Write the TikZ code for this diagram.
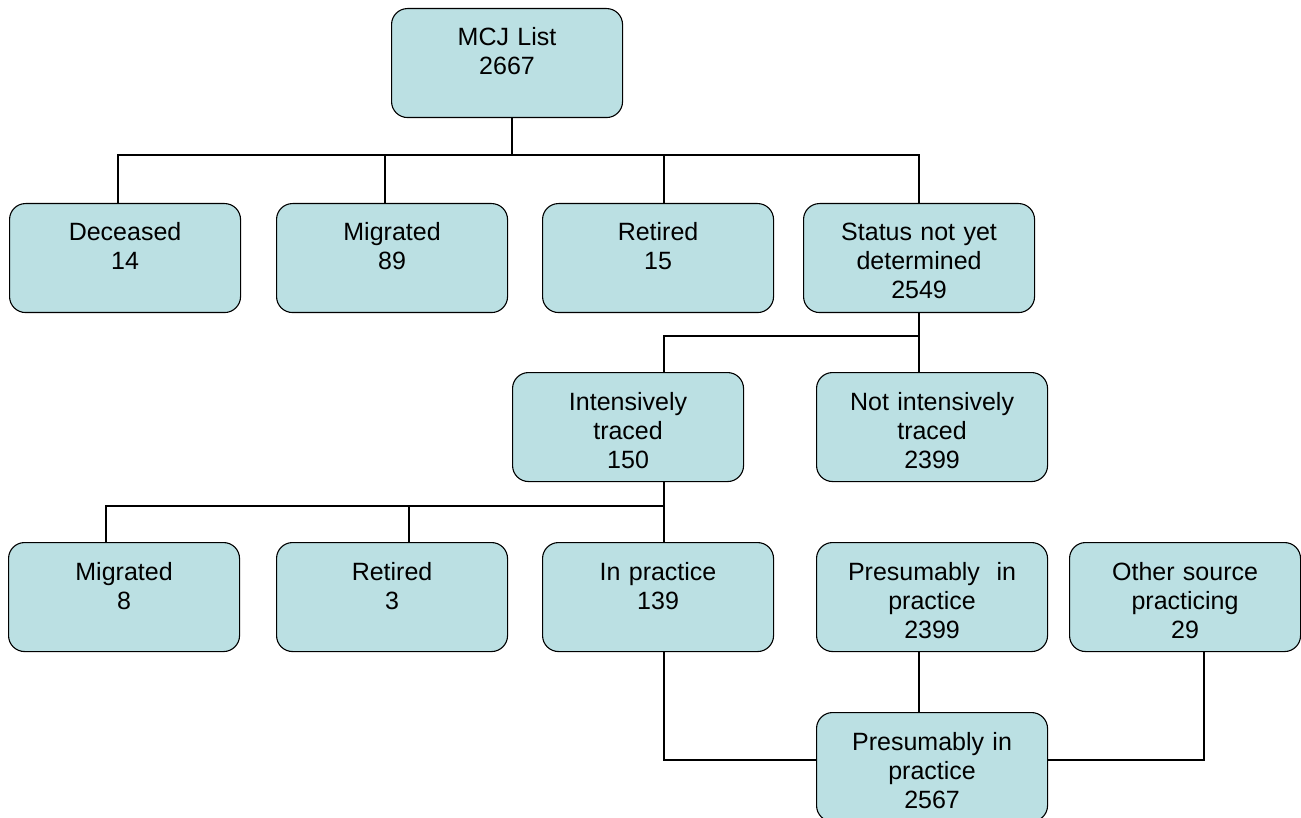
\documentclass[tikz,border=0pt]{standalone}
\usepackage{fontspec}
\setmainfont{Liberation Sans}
\definecolor{boxfill}{RGB}{187,224,227}
\tikzset{
  bx/.style={draw=black, fill=boxfill, line width=1.1pt, rounded corners=16pt,
    minimum width=231pt, minimum height=109pt, inner sep=0pt, anchor=north west},
  txt/.style={anchor=base, align=center, text width=225pt, inner sep=0pt,
    font=\fontsize{25}{29}\selectfont},
  link/.style={draw=black, line width=1.1pt}
}
\begin{document}
\begin{tikzpicture}[x=1pt,y=-1pt]
\useasboundingbox (0,0) rectangle (1301,818);
% boxes
\node[bx] (mcj)  at (391,8) {};
\node[bx] (dec)  at (9,203) {};
\node[bx] (mig)  at (276,203) {};
\node[bx] (ret)  at (542,203) {};
\node[bx] (sta)  at (803,203) {};
\node[bx] (int)  at (512,372) {};
\node[bx] (nint) at (816,372) {};
\node[bx] (mig2) at (8,542) {};
\node[bx] (ret2) at (276,542) {};
\node[bx] (inp)  at (542,542) {};
\node[bx] (pres) at (816,542) {};
\node[bx] (oth)  at (1069,542) {};
\node[bx] (fin)  at (816,712) {};
% texts
\node[txt] (tmcj)  at ([yshift=-38pt]mcj.north)  {MCJ List\\2667};
\node[txt] (tdec)  at ([yshift=-38pt]dec.north)  {Deceased\\14};
\node[txt] (tmig)  at ([yshift=-38pt]mig.north)  {Migrated\\89};
\node[txt] (tret)  at ([yshift=-38pt]ret.north)  {Retired\\15};
\node[txt] (tsta)  at ([yshift=-38pt]sta.north)  {Status not yet\\determined\\2549};
\node[txt] (tint)  at ([yshift=-38pt]int.north)  {Intensively\\traced\\150};
\node[txt] (tnint) at ([yshift=-38pt]nint.north) {Not intensively\\traced\\2399};
\node[txt] (tmig2) at ([yshift=-38pt]mig2.north) {Migrated\\8};
\node[txt] (tret2) at ([yshift=-38pt]ret2.north) {Retired\\3};
\node[txt] (tinp)  at ([yshift=-38pt]inp.north)  {In practice\\139};
\node[txt] (tpres) at ([yshift=-38pt]pres.north) {Presumably~ in\\practice\\2399};
\node[txt] (toth)  at ([yshift=-38pt]oth.north)  {Other source\\practicing\\29};
\node[txt] (tfin)  at ([yshift=-38pt]fin.north)  {Presumably in\\practice\\2567};
% bus coordinates
\coordinate (b1) at (512,155);
\coordinate (xdec) at (118,155);
\coordinate (xmig) at (385,155);
\coordinate (xret) at (664,155);
\coordinate (xsta) at (919,155);
\coordinate (b2) at (919,336);
\coordinate (xint) at (664,336);
\coordinate (b3) at (664,506);
\coordinate (xmig2) at (106,506);
\coordinate (xret2) at (409,506);
\coordinate (b4) at (664,760);
\coordinate (b5) at (1204,760);
% connectors
\draw[link] (mcj.south -| b1) -- (b1);
\draw[link] (dec.north -| xdec) -- (xdec) -- (xsta) -- (sta.north -| xsta);
\draw[link] (mig.north -| xmig) -- (xmig);
\draw[link] (ret.north -| xret) -- (xret);
\draw[link] (sta.south -| b2) -- (nint.north -| b2);
\draw[link] (b2) -- (xint) -- (int.north -| xint);
\draw[link] (int.south -| b3) -- (inp.north -| b3);
\draw[link] (b3) -- (xmig2) -- (mig2.north -| xmig2);
\draw[link] (ret2.north -| xret2) -- (xret2);
\draw[link] (inp.south -| b4) -- (b4) -- (fin.west |- b4);
\draw[link] (pres.south -| b2) -- (fin.north -| b2);
\draw[link] (oth.south -| b5) -- (b5) -- (fin.east |- b5);
\end{tikzpicture}
\end{document}
